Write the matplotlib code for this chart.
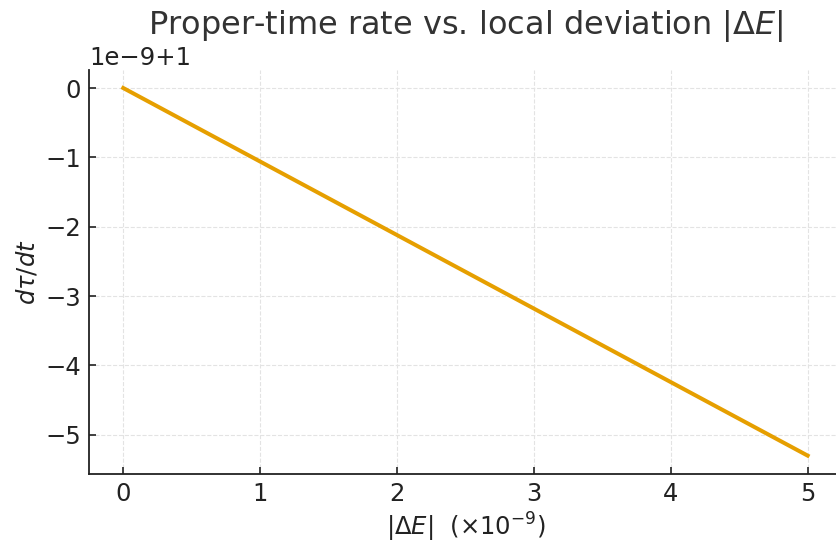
import matplotlib
matplotlib.use("Agg")
import matplotlib.pyplot as plt

delta_E = [0, 1, 2, 3, 4, 5]  # in units of 1e-9
dtau_dt = [1.0, 0.99999999894, 0.99999999788, 0.99999999682, 0.99999999576, 0.9999999947]

plt.rcParams['font.family'] = ['DejaVu Sans']
fig = plt.figure(figsize=(8.36, 5.44), dpi=100)
ax = fig.add_axes([0.1065, 0.1287, 0.9005, 0.7433])

ax.plot(delta_E, dtau_dt, color='#E69F00', linewidth=2.9)

ax.set_title(r'Proper-time rate vs. local deviation $|\Delta E|$', fontsize=23, color='#333333', pad=26)
ax.set_xlabel(r'$|\Delta E|$  ($\times10^{-9}$)', fontsize=17.5, color='#222222', labelpad=3)
ax.set_ylabel(r'$d\tau/dt$', fontsize=17.5, color='#222222')

for s in ['top', 'right']:
    ax.spines[s].set_visible(False)
for s in ['left', 'bottom']:
    ax.spines[s].set_linewidth(1.3)
    ax.spines[s].set_color('#222222')

ax.tick_params(direction='in', labelsize=17.5, colors='#222222', length=5, width=1.2, pad=6)
ax.yaxis.get_offset_text().set_fontsize(17.5)
ax.grid(True, linestyle='--', color='#e3e3e3', linewidth=0.8)
ax.set_axisbelow(True)

fig.savefig('out.png', dpi=100)
